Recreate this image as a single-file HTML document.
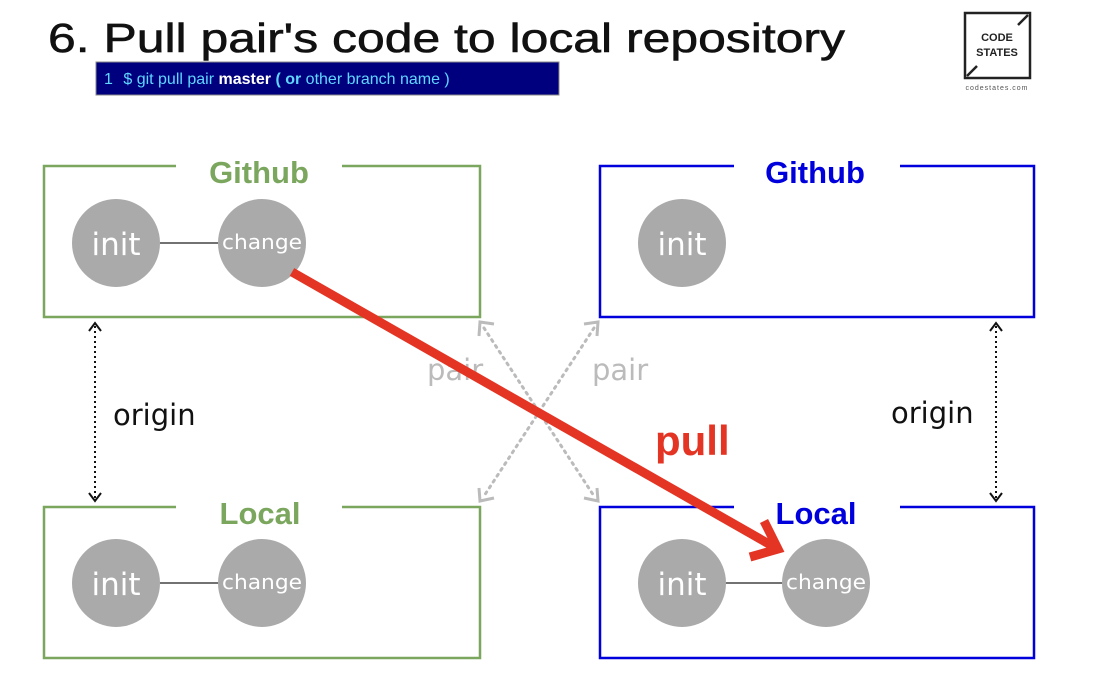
<!DOCTYPE html>
<html><head><meta charset="utf-8"><style>
html,body{margin:0;padding:0;background:#fff;}
svg{display:block;}
</style></head><body>
<svg width="1118" height="688" viewBox="0 0 1118 688" xmlns="http://www.w3.org/2000/svg" font-family="Liberation Sans, sans-serif">
<rect width="1118" height="688" fill="#fff"/>
<text x="48" y="52" font-size="41" fill="#111" stroke="#111" stroke-width="0.6" textLength="797" lengthAdjust="spacingAndGlyphs">6. Pull pair's code to local repository</text>
<rect x="96" y="62" width="463" height="33" fill="#00007f" stroke="#888" stroke-width="1"/>
<text x="104" y="84" font-size="16" fill="#5fd7ff">1 <tspan dx="6">$ git pull pair</tspan> <tspan fill="#fff" font-weight="bold">master</tspan> <tspan font-weight="bold">( or</tspan> other branch name )</text>
<rect x="965" y="13" width="65" height="65" fill="none" stroke="#222" stroke-width="2.5"/>
<line x1="1018" y1="25" x2="1028" y2="15" stroke="#222" stroke-width="2.5"/>
<line x1="967" y1="76" x2="977" y2="66" stroke="#222" stroke-width="2.5"/>
<text x="997" y="41" font-size="11" font-weight="bold" fill="#222" text-anchor="middle">CODE</text>
<text x="997" y="56" font-size="11" font-weight="bold" fill="#222" text-anchor="middle">STATES</text>
<text x="997" y="90" font-size="7" fill="#555" text-anchor="middle" letter-spacing="1">codestates.com</text>
<g fill="none" stroke-width="2.5">
<path d="M176 166 H44 V317 H480 V166 H342" stroke="#7aa65e"/>
<path d="M176 507 H44 V658 H480 V507 H342" stroke="#7aa65e"/>
<path d="M734 166 H600 V317 H1034 V166 H900" stroke="#0000dd"/>
<path d="M734 507 H600 V658 H1034 V507 H900" stroke="#0000dd"/>
</g>
<g font-weight="bold" font-size="31" text-anchor="middle">
<text x="259" y="183" fill="#7aa65e">Github</text>
<text x="260" y="524" fill="#7aa65e">Local</text>
<text x="815" y="183" fill="#0000dd">Github</text>
<text x="816" y="524" fill="#0000dd">Local</text>
</g>
<g stroke="#444" stroke-width="1.5">
<line x1="160" y1="243" x2="218" y2="243"/>
<line x1="160" y1="583" x2="218" y2="583"/>
<line x1="726" y1="583" x2="782" y2="583"/>
</g>
<g fill="#aaa">
<circle cx="116" cy="243" r="44"/><circle cx="262" cy="243" r="44"/>
<circle cx="682" cy="243" r="44"/>
<circle cx="116" cy="583" r="44"/><circle cx="262" cy="583" r="44"/>
<circle cx="682" cy="583" r="44"/><circle cx="826" cy="583" r="44"/>
</g>
<g fill="#fff" text-anchor="middle" font-family="DejaVu Sans, sans-serif">
<text x="116" y="255" font-size="31">init</text>
<text x="262" y="249" font-size="20" textLength="80" lengthAdjust="spacingAndGlyphs">change</text>
<text x="682" y="255" font-size="31">init</text>
<text x="116" y="595" font-size="31">init</text>
<text x="262" y="589" font-size="20" textLength="80" lengthAdjust="spacingAndGlyphs">change</text>
<text x="682" y="595" font-size="31">init</text>
<text x="826" y="589" font-size="20" textLength="80" lengthAdjust="spacingAndGlyphs">change</text>
</g>
<g stroke="#111" stroke-width="2" fill="none">
<line x1="95" y1="326" x2="95" y2="498" stroke-dasharray="2 3"/>
<path d="M89 331 L95 323 L101 331 M89 493 L95 501 L101 493"/>
<line x1="996" y1="326" x2="996" y2="498" stroke-dasharray="2 3"/>
<path d="M990 331 L996 323 L1002 331 M990 493 L996 501 L1002 493"/>
</g>
<text x="113" y="425" font-size="29" fill="#111" font-family="DejaVu Sans, sans-serif">origin</text>
<text x="891" y="423" font-size="29" fill="#111" font-family="DejaVu Sans, sans-serif">origin</text>
<g stroke="#bbb" stroke-width="3" fill="none">
<line x1="484" y1="328" x2="594" y2="496" stroke-dasharray="2 5" stroke-linecap="round"/>
<line x1="594" y1="328" x2="484" y2="496" stroke-dasharray="2 5" stroke-linecap="round"/>
<path d="M479 336 L480 322 L494 324 M584 324 L598 322 L597 336 M479 488 L480 501 L494 498 M584 498 L598 501 L597 488"/>
</g>
<text x="427" y="380" font-size="29" fill="#bbb" font-family="DejaVu Sans, sans-serif">pair</text>
<text x="592" y="380" font-size="29" fill="#bbb" font-family="DejaVu Sans, sans-serif">pair</text>
<g stroke="#e33424" stroke-width="9" fill="none">
<line x1="292" y1="272" x2="776" y2="548"/>
<path d="M764 521 L778 549 L750 557" stroke-linejoin="miter"/>
</g>
<text x="655" y="455" font-size="42" font-weight="bold" fill="#e33424">pull</text>
</svg>
</body></html>
